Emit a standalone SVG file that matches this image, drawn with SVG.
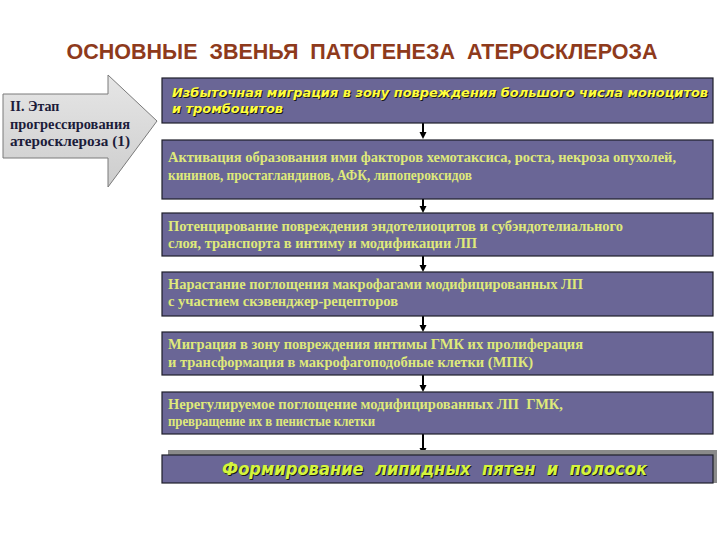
<svg xmlns="http://www.w3.org/2000/svg" width="720" height="540" viewBox="0 0 720 540">
  <defs>
    <style>
      .title { font-family: "Liberation Sans", Arial, sans-serif; font-weight: bold; font-size: 21.5px; fill: #8e3a1c; }
      .box { fill: #6a6696; stroke: #1e1e2a; stroke-width: 1.2; }
      .serif { font-family: "Liberation Serif", "Times New Roman", serif; font-weight: bold; font-size: 14px; fill: #dfe97a; }
      .ital { font-family: "DejaVu Sans", Verdana, sans-serif; font-weight: bold; font-style: italic; font-size: 12.5px; fill: #ffff3c; }
      .ital7 { font-family: "DejaVu Sans", Verdana, sans-serif; font-weight: bold; font-style: italic; font-size: 17px; fill: #d4f53c; }
      .shadow { fill: #1a1a1a; }
      .stage { font-family: "Liberation Serif", "Times New Roman", serif; font-weight: bold; font-size: 14px; fill: #1c1c3a; }
      .conn { stroke: #000; stroke-width: 2; fill: none; }
    </style>
    <linearGradient id="arrowFill" x1="0" y1="0" x2="0" y2="1">
      <stop offset="0" stop-color="#e6e6e6"/>
      <stop offset="1" stop-color="#cdcdcd"/>
    </linearGradient>
  </defs>

  <rect width="720" height="540" fill="#ffffff"/>

  <g id="title">
    <text class="title" x="362" y="59" text-anchor="middle" xml:space="preserve">ОСНОВНЫЕ  ЗВЕНЬЯ  ПАТОГЕНЕЗА  АТЕРОСКЛЕРОЗА</text>
  </g>

  <g id="stage-arrow">
    <polygon points="3,94 108,94 108,75 157,121 108,187 108,158 3,158" fill="url(#arrowFill)" stroke="#7a7a7a" stroke-width="1"/>
    <text class="stage" x="10" y="111">II. Этап</text>
    <text class="stage" x="10" y="129" textLength="120" lengthAdjust="spacingAndGlyphs">прогрессирования</text>
    <text class="stage" x="10" y="146" textLength="120" lengthAdjust="spacingAndGlyphs">атеросклероза (1)</text>
  </g>

  <g id="connectors">
    <line class="conn" x1="423" y1="123" x2="423" y2="133"/>
    <path d="M419.5,132 L426.5,132 L423,139 Z"/>
    <line class="conn" x1="423" y1="199" x2="423" y2="207"/>
    <path d="M419.5,206 L426.5,206 L423,213 Z"/>
    <line class="conn" x1="423" y1="256" x2="423" y2="266"/>
    <path d="M419.5,265 L426.5,265 L423,272 Z"/>
    <line class="conn" x1="423" y1="316" x2="423" y2="326"/>
    <path d="M419.5,325 L426.5,325 L423,332 Z"/>
    <line class="conn" x1="423" y1="375" x2="423" y2="386"/>
    <path d="M419.5,385 L426.5,385 L423,392 Z"/>
    <line class="conn" x1="423" y1="434" x2="423" y2="449"/>
    <path d="M419.5,448 L426.5,448 L423,455 Z"/>
  </g>

  <g id="box1">
    <rect class="box" x="162" y="78" width="551" height="45"/>
    <text class="ital shadow" x="173" y="98" textLength="536" lengthAdjust="spacingAndGlyphs">Избыточная миграция в зону повреждения большого числа моноцитов</text>
    <text class="ital" x="172" y="97" textLength="536" lengthAdjust="spacingAndGlyphs">Избыточная миграция в зону повреждения большого числа моноцитов</text>
    <text class="ital shadow" x="173" y="114" textLength="111" lengthAdjust="spacingAndGlyphs">и тромбоцитов</text>
    <text class="ital" x="172" y="113" textLength="111" lengthAdjust="spacingAndGlyphs">и тромбоцитов</text>
  </g>

  <g id="box2">
    <rect class="box" x="162" y="140" width="551" height="59"/>
    <text class="serif" x="168" y="162" textLength="508" lengthAdjust="spacingAndGlyphs">Активация образования ими факторов хемотаксиса, роста, некроза опухолей,</text>
    <text class="serif" x="168" y="180" textLength="304" lengthAdjust="spacingAndGlyphs">кининов, простагландинов, АФК, липопероксидов</text>
  </g>

  <g id="box3">
    <rect class="box" x="162" y="213" width="551" height="43"/>
    <text class="serif" x="168" y="231" textLength="455" lengthAdjust="spacingAndGlyphs">Потенцирование повреждения эндотелиоцитов и субэндотелиального</text>
    <text class="serif" x="168" y="248" textLength="309" lengthAdjust="spacingAndGlyphs">слоя, транспорта в интиму и модификации ЛП</text>
  </g>

  <g id="box4">
    <rect class="box" x="162" y="272" width="551" height="44"/>
    <text class="serif" x="168" y="289" textLength="415" lengthAdjust="spacingAndGlyphs">Нарастание поглощения макрофагами модифицированных ЛП</text>
    <text class="serif" x="168" y="306" textLength="230" lengthAdjust="spacingAndGlyphs">с участием скэвенджер-рецепторов</text>
  </g>

  <g id="box5">
    <rect class="box" x="162" y="332" width="551" height="43"/>
    <text class="serif" x="168" y="349" textLength="415" lengthAdjust="spacingAndGlyphs">Миграция в зону повреждения интимы ГМК их пролиферация</text>
    <text class="serif" x="168" y="367" textLength="365" lengthAdjust="spacingAndGlyphs">и трансформация в макрофагоподобные клетки (МПК)</text>
  </g>

  <g id="box6">
    <rect class="box" x="162" y="392" width="551" height="42"/>
    <text class="serif" x="168" y="409" textLength="395" lengthAdjust="spacingAndGlyphs" xml:space="preserve">Нерегулируемое поглощение модифицированных ЛП  ГМК,</text>
    <text class="serif" x="168" y="426" textLength="207" lengthAdjust="spacingAndGlyphs">превращение их в пенистые клетки</text>
  </g>

  <g id="box7">
    <polygon points="168,450 717,450 717,483 713,483 713,455 168,455" fill="#8a8a8a"/>
    <rect class="box" x="162" y="455" width="551" height="28"/>
    <text class="ital7 shadow" x="223" y="476" textLength="425" lengthAdjust="spacingAndGlyphs" xml:space="preserve">Формирование  липидных  пятен  и  полосок</text>
    <text class="ital7" x="222" y="475" textLength="425" lengthAdjust="spacingAndGlyphs" xml:space="preserve">Формирование  липидных  пятен  и  полосок</text>
  </g>
</svg>
